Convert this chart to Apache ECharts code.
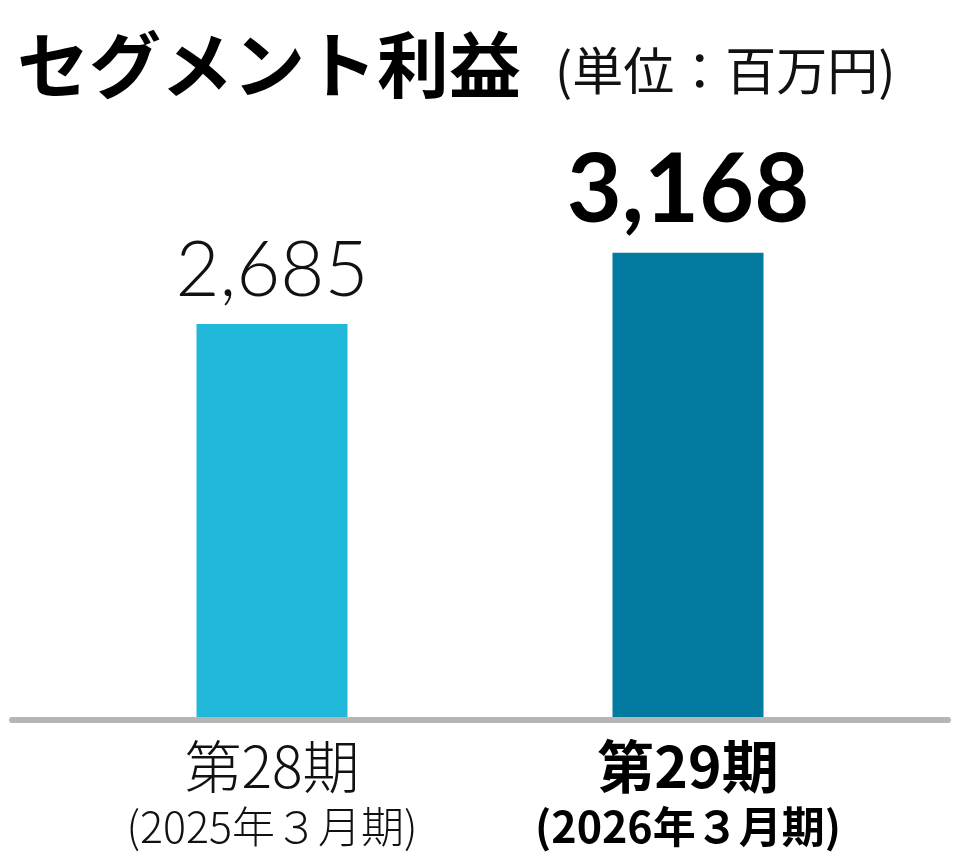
<!DOCTYPE html>
<html lang="ja">
<head>
<meta charset="utf-8">
<style>
  html, body { margin: 0; padding: 0; background: #fff; }
  #chart { width: 967px; height: 867px; }
</style>
</head>
<body>
<div id="chart"></div>
<script src="https://cdn.jsdelivr.net/npm/echarts@6/dist/echarts.min.js"></script>
<script>
var categories = ['第28期', '第29期'];
var periods = ['(2025年３月期)', '(2026年３月期)'];
var values = [2685, 3168];
var barColors = ['#22B8D9', '#037BA1'];

var cjk = '"Noto Sans CJK JP", "Noto Sans", sans-serif';
var num = 'Lato, "Noto Sans", sans-serif';

var chart = echarts.init(document.getElementById('chart'));

var option = {
  backgroundColor: '#fff',
  animation: false,
  title: {
    left: 12,
    top: 24,
    text: '{a|セグメント利益}{b|(単位：百万円)}',
    textStyle: {
      rich: {
        a: { fontFamily: cjk, fontSize: 72, fontWeight: 'bold', color: '#000' },
        b: { fontFamily: cjk, fontSize: 51, fontWeight: 'normal', color: '#111', padding: [12, 0, 0, 34] }
      }
    }
  },
  grid: [
    { left: 64, right: 71, top: 130, bottom: 147 },
    { left: 12, right: 19, top: 130, bottom: 147 }
  ],
  xAxis: [
    {
      type: 'category',
      gridIndex: 0,
      data: categories,
      axisLine: { show: false },
      axisTick: { show: false },
      axisLabel: {
        margin: 12,
        interval: 0,
        formatter: function (v, i) {
          if (i === 1) return '{ab|' + v + '}\n{bb|' + periods[i] + '}';
          return '{a|' + v + '}\n{b|' + periods[i] + '}';
        },
        rich: {
          a: { fontFamily: cjk, fontSize: 57, fontWeight: 300, color: '#111', lineHeight: 68 },
          b: { fontFamily: cjk, fontSize: 43, fontWeight: 300, color: '#111', lineHeight: 54 },
          ab: { fontFamily: cjk, fontSize: 57, fontWeight: 'bold', color: '#000', lineHeight: 68 },
          bb: { fontFamily: cjk, fontSize: 43, fontWeight: 'bold', color: '#000', lineHeight: 54 }
        }
      }
    },
    {
      type: 'category',
      gridIndex: 1,
      data: [''],
      z: 10,
      axisLine: { show: true, lineStyle: { color: '#b5b5b5', width: 6 } },
      axisTick: { show: false },
      axisLabel: { show: false }
    }
  ],
  yAxis: [
    { type: 'value', gridIndex: 0, min: 0, max: 4000, show: false },
    { type: 'value', gridIndex: 1, min: 0, max: 4000, show: false }
  ],
  series: [{
    type: 'bar',
    xAxisIndex: 0,
    yAxisIndex: 0,
    data: values,
    barWidth: 151,
    itemStyle: {
      color: function (p) { return barColors[p.dataIndex]; }
    },
    label: {
      show: true,
      position: 'top',
      distance: 14,
      formatter: function (p) {
        var s = p.value.toLocaleString('en-US');
        return p.dataIndex === 1 ? '{big|' + s + '}' : '{small|' + s + '}';
      },
      rich: {
        small: { fontFamily: num, fontSize: 76, fontWeight: 300, color: '#111' },
        big: { fontFamily: num, fontSize: 95, fontWeight: 'bold', color: '#000' }
      }
    }
  }]
};

chart.setOption(option);
</script>
</body>
</html>
